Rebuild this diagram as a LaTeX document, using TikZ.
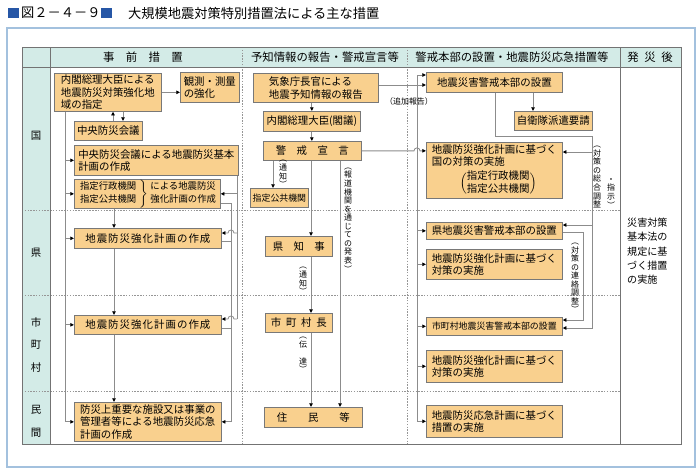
\documentclass[tikz,border=0pt]{standalone}
\usepackage{fontspec}
\setmainfont{Noto Sans CJK JP}
\newfontfamily\spacedfont[LetterSpace=10]{Noto Sans CJK JP}
\usetikzlibrary{arrows.meta}

\definecolor{boxfill}{RGB}{249,208,142}
\definecolor{boxline}{RGB}{120,120,120}
\definecolor{headfill}{RGB}{211,235,231}
\definecolor{framecol}{RGB}{163,193,222}
\definecolor{titleblue}{RGB}{38,86,166}
\definecolor{linecol}{RGB}{140,140,140}
\definecolor{gridcol}{RGB}{150,150,150}
\definecolor{tabcol}{RGB}{115,115,115}

\newcommand\bxfont{\fontsize{8.9pt}{10.7pt}\selectfont}
\newcommand\ebxfont{\fontsize{8pt}{11pt}\selectfont}
\newcommand\sbxfont{\fontsize{7.6pt}{10pt}\selectfont}
\newcommand\hdfont{\fontsize{9.7pt}{12pt}\selectfont}
\newcommand\rlfont{\fontsize{8.9pt}{19.4pt}\selectfont}
\newcommand\pfont{\fontsize{8.6pt}{12.1pt}\selectfont}
\newcommand\lbfont{\fontsize{6.8pt}{7.3pt}\selectfont\lineskiplimit=-5pt}
\newcommand\ttlfont{\fontsize{11.3pt}{13pt}\selectfont}

\tikzset{
  box/.style={draw=boxline, fill=boxfill, line width=0.6pt, inner xsep=2pt, inner ysep=0pt,
    anchor=north west, align=left, font=\bxfont},
  wh/.style 2 args={minimum width=#1*0.03cm, minimum height=#2*0.03cm},
  ln/.style={draw=linecol, line width=0.7pt},
  arr/.style={ln, -{Triangle[length=3.2pt,width=3pt,color=black]}},
  gridln/.style={draw=gridcol, line width=0.6pt, dash pattern=on 1.2pt off 1.2pt},
  tabline/.style={draw=tabcol, line width=0.7pt},
  vlab/.style={font=\lbfont, align=center, inner sep=0pt},
}

\begin{document}
\begin{tikzpicture}[x=0.03cm,y=-0.03cm]
\useasboundingbox (0,0) rectangle (700,474);

\fill[titleblue] (8,8) rectangle (19,18);
\node[anchor=west, font=\ttlfont, inner sep=0pt] (fig) at (21,13) {図２－４－９};
\fill[titleblue] (101,8) rectangle (112,18);
\node[anchor=west, font=\ttlfont, inner sep=0pt] (title) at (128,13) {大規模地震対策特別措置法による主な措置};

\draw[framecol, line width=1pt] (7,28) rectangle (695,467);
\fill[headfill] (22,47) rectangle (681,67);
\fill[headfill] (22,67) rectangle (50,444);
\draw[gridln] (242,47) -- (242,444);
\draw[gridln] (407,47) -- (407,444);
\foreach \y in {210,295,391} \draw[gridln] (22,\y) -- (620,\y);
\draw[tabline] (22,47) rectangle (681,444);
\draw[tabline] (22,67) -- (681,67);
\draw[tabline] (50,47) -- (50,444);
\draw[tabline] (620,47) -- (620,444);

\node[font=\hdfont] (h1) at (143,57) {事　前　措　置};
\node[font=\hdfont] (h2) at (325,57) {予知情報の報告・警戒宣言等};
\node[font=\hdfont] (h3) at (512,57) {警戒本部の設置・地震防災応急措置等};
\node[font=\hdfont] (h4) at (650,57) {発\hspace{0.5em}災\hspace{0.5em}後};

\node[font=\rlfont] (kuni) at (36,136) {国};
\node[font=\rlfont] (ken) at (36,253) {県};
\node[font=\rlfont, align=center] (shi) at (36,345) {市\\町\\村};
\node[font=\rlfont, align=center] (min) at (36,421) {民\\間};

\node[box, wh={107}{38}] (A) at (54,73) {内閣総理大臣による\\地震防災対策強化地\\域の指定};
\node[box, wh={59}{30}] (B) at (180,72) {観測・測量\\の強化};
\node[box, wh={68}{19}] (C) at (74,121) {中央防災会議};
\node[box, wh={164}{30}] (D) at (74,145) {中央防災会議による地震防災基本\\計画の作成};
\node[box, wh={146}{29}, font=\ebxfont] (E) at (74,179) {$\left.\begin{tabular}{@{}l@{}}指定行政機関\\指定公共機関\end{tabular}\;\right\}$\;\begin{tabular}{@{}l@{}}による地震防災\\強化計画の作成\end{tabular}};
\node[box, wh={147}{20}] (F) at (74,228) {\spacedfont 地震防災強化計画の作成};
\node[box, wh={147}{19}] (G) at (74,315) {\spacedfont 地震防災強化計画の作成};
\node[box, wh={147}{39}] (H) at (74,402) {防災上重要な施設又は事業の\\管理者等による地震防災応急\\計画の作成};

\node[box, wh={125}{29}] (I) at (253,73) {気象庁長官による\\地震予知情報の報告};
\node[box, wh={97}{20}] (J) at (263,111) {内閣総理大臣(閣議)};
\node[box, wh={98}{19}] (K) at (263,141) {警　戒　宣　言};
\node[box, wh={58}{19}, font=\sbxfont] (L) at (250,188) {指定公共機関};
\node[box, wh={67}{20}] (M) at (265,236) {県　知　事};
\node[box, wh={67}{19}] (N) at (265,313) {市\hspace{0.45em}町\hspace{0.45em}村\hspace{0.45em}長};
\node[box, wh={98}{20}] (O) at (264,407) {住　　民　　等};

\node[box, wh={136}{56}] (R) at (426,142) {地震防災強化計画に基づく\\国の対策の実施\rule[-3.5pt]{0pt}{1pt}\\\hspace*{2.7em}$\Bigl($\begin{tabular}{@{}l@{}}指定行政機関\\指定公共機関\end{tabular}$\Bigr)$};
\node[box, wh={136}{20}] (P) at (426,72) {地震災害警戒本部の設置};
\node[box, wh={78}{19}] (Q) at (514,111) {自衛隊派遣要請};
\node[box, wh={136}{17}] (S) at (426,222) {県地震災害警戒本部の設置};
\node[box, wh={136}{30}] (T) at (426,249) {地震防災強化計画に基づく\\対策の実施};
\node[box, wh={136}{18}, font=\sbxfont] (U) at (426,317) {市町村地震災害警戒本部の設置};
\node[box, wh={136}{32}] (V) at (426,350) {地震防災強化計画に基づく\\対策の実施};
\node[box, wh={136}{32}] (W) at (426,405) {地震防災応急計画に基づく\\措置の実施};

\node[anchor=north west, align=left, font=\pfont, inner sep=0pt] (post) at (627,218) {災害対策\\基本法の\\規定に基\\づく措置\\の実施};

\coordinate (ac1) at (113,0);
\coordinate (ac2) at (123,0);
\coordinate (lb) at (65,0);
\coordinate (cb) at (114,0);
\coordinate (al) at (237,0);
\coordinate (aF) at (237,233);
\coordinate (aG) at (237,319);
\coordinate (bt) at (231,203);
\coordinate (bF) at (231,241);
\coordinate (bG) at (231,328);

\draw[arr] (A.east) -- (A.east -| B.west);
\draw[arr] (C.north -| ac1) -- (A.south -| ac1);
\draw[arr] (A.south -| ac2) -- (C.north -| ac2);
\draw[ln] (A.south -| lb) -- (H.west -| lb);
\foreach \n in {D,E,F,G,H} \draw[arr] (\n.west -| lb) -- (\n.west);
\foreach \a/\b in {E/F,F/G,G/H} \draw[arr] (\a.south -| cb) -- (\b.north -| cb);
\draw[ln] (D.south -| al) -- (aG);
\draw[arr] (E.east -| al) -- (E.east);
\draw[arr] (aF) -- ++(-3,0) arc[start angle=0, end angle=180, radius=2.56pt] -- (aF -| F.east);
\draw[arr] (aG) -- ++(-3,0) arc[start angle=0, end angle=180, radius=2.56pt] -- (aG -| G.east);
\draw[arr] (bt -| E.east) -- (bt) |- (H.east);
\draw[ln] (bF -| F.east) -- (bF);
\draw[ln] (bG -| G.east) -- (bG);

\coordinate (kl) at (273,0);
\coordinate (km) at (311,0);
\coordinate (ko) at (340,0);
\coordinate (ipy) at (0,85);
\coordinate (hk) at (414,0);
\coordinate (rb) at (417,75);

\draw[arr] (J.north |- I.south) -- (J.north);
\draw[arr] (J.south) -- (J.south |- K.north);
\draw[arr] (K.south -| kl) -- (L.north -| kl);
\draw[arr] (K.south -| km) -- (M.north -| km);
\draw[arr] (M.south -| km) -- (N.north -| km);
\draw[arr] (N.south -| km) -- (O.north -| km);
\draw[arr] (K.south -| ko) -- (O.north -| ko);
\draw[arr] (I.east |- ipy) -- (P.west |- ipy);
\draw[arr] (K.east) -- (K.east -| hk) arc[start angle=180, end angle=0, radius=2.56pt] -- (K.east -| R.west);
\draw[arr] (rb) -- (rb -| P.west);
\draw[ln] (rb) -- (W.west -| rb);
\foreach \n in {S,T,U,V,W} \draw[arr] (\n.west -| rb) -- (\n.west);

\coordinate (pq) at (533,0);
\coordinate (g1) at (495,136);
\coordinate (gR) at (592,152);
\coordinate (gS) at (592,225);
\coordinate (gU) at (592,328);
\coordinate (dS) at (583,232);
\coordinate (dU) at (583,320);

\draw[arr] (P.south -| pq) -- (Q.north -| pq);
\draw[arr] (P.south -| g1) -- (g1) -- (gU |- g1) -- (gU) -- (gU -| U.east);
\draw[arr] (gR) -- (gR -| R.east);
\draw[arr] (gS) -- (gS -| S.east);
\draw[arr] (dS -| S.east) -- (dS) -- (dU) -- (dU -| U.east);

\node[vlab] (nt1) at (283,174) {︵\\通\\知\\︶};
\node[vlab] (pub) at (348,220) {︵\\報\\道\\機\\関\\を\\通\\じ\\て\\の\\発\\表\\︶};
\node[vlab] (nt2) at (303,281) {︵\\通\\知\\︶};
\node[vlab] (den) at (303,355) {︵\\伝\\[7pt]達\\︶};
\node[font=\lbfont, inner sep=0pt] (add) at (409,101) {（追加報告）};
\coordinate (x611) at (611,0);
\node[vlab, anchor=north] (sog1) at (597,146) {︵\\対\\策\\の\\総\\合\\調\\整};
\node[vlab, anchor=south] (sog2) at (sog1.south -| x611) {・\\指\\示\\︶};
\node[vlab] (ren) at (575,278) {︵\\対\\策\\の\\連\\絡\\調\\整\\︶};
\end{tikzpicture}
\end{document}
